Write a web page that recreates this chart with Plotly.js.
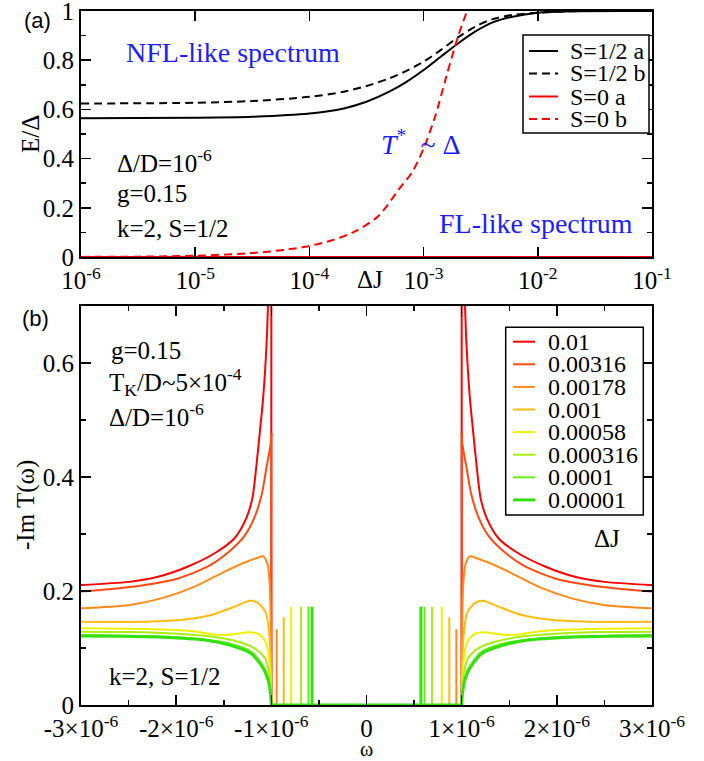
<!DOCTYPE html>
<html><head><meta charset="utf-8">
<script src="https://cdn.plot.ly/plotly-3.0.1.min.js"></script>
<style>html,body{margin:0;padding:0;background:#fff}#chart{width:704px;height:761px}</style>
</head><body><div id="chart"></div>
<script>
// ================= Panel (a) data =================
const dJ_S12 = [1e-6, 1e-5, 3.16e-5, 1e-4, 2e-4, 3.16e-4, 5e-4, 7.08e-4, 1e-3, 1.41e-3, 2e-3, 2.82e-3, 3.98e-3, 6.03e-3, 1e-2, 2e-2, 1e-1];
const E_S12a = [0.564, 0.566, 0.570, 0.583, 0.604, 0.631, 0.672, 0.712, 0.760, 0.814, 0.868, 0.916, 0.953, 0.977, 0.993, 0.999, 1.0];
const E_S12b = [0.624, 0.627, 0.634, 0.651, 0.672, 0.695, 0.726, 0.757, 0.794, 0.841, 0.893, 0.936, 0.966, 0.984, 0.993, 0.999, 1.0];
const dJ_S0a = [1e-6, 1e-1];
const E_S0a = [0, 0];
const dJ_S0b = [1e-6, 3.16e-6, 1e-5, 3.16e-5, 6.31e-5, 1e-4, 1.58e-4, 2.51e-4, 3.98e-4, 6.31e-4, 7.94e-4, 1e-3, 1.26e-3, 1.58e-3, 2e-3, 2.4e-3, 2.6e-3];
const E_S0b = [0.0005, 0.0015, 0.005, 0.016, 0.03, 0.045, 0.068, 0.104, 0.165, 0.285, 0.345, 0.441, 0.570, 0.733, 0.896, 1.0, 1.05];
const topNames = ['S=1/2 a', 'S=1/2 b', 'S=0 a', 'S=0 b'];
const topTickVals = [1e-6, 1e-5, 1e-4, 1e-3, 1e-2, 1e-1];
const topTickText = ['10<sup>-6</sup>', '10<sup>-5</sup>', '10<sup>-4</sup>', '10<sup>-3</sup>', '10<sup>-2</sup>', '10<sup>-1</sup>'];
const topYTickVals = [0, 0.2, 0.4, 0.6, 0.8, 1];
const topYTickText = ['0', '0.2', '0.4', '0.6', '0.8', '1'];

// ================= Panel (b) data (omega in units of 1e-6, positive side; spectrum is symmetric) =================
const dJLabels = ['0.01', '0.00316', '0.00178', '0.001', '0.00058', '0.000316', '0.0001', '0.00001'];
const omega_0p01 = [1.0, 1.032, 1.045, 1.063, 1.088, 1.122, 1.158, 1.20, 1.263, 1.385, 1.578, 1.876, 2.19, 2.5, 3.0];
const imT_0p01 = [0.90, 0.72, 0.652, 0.594, 0.535, 0.477, 0.418, 0.362, 0.328, 0.293, 0.268, 0.243, 0.225, 0.216, 0.2105];
const omega_0p00316 = [1.0, 1.006, 1.025, 1.053, 1.10, 1.175, 1.28, 1.437, 1.665, 1.98, 2.33, 2.6, 3.0];
const imT_0p00316 = [0.477, 0.46, 0.44, 0.415, 0.37, 0.33, 0.297, 0.27, 0.243, 0.222, 0.2105, 0.205, 0.199];
const omega_0p00178 = [1.0, 1.005, 1.017, 1.042, 1.088, 1.15, 1.28, 1.49, 1.805, 2.156, 2.506, 3.0];
const imT_0p00178 = [0, 0.126, 0.213, 0.248, 0.261, 0.258, 0.250, 0.234, 0.2076, 0.187, 0.175, 0.1696];
const omega_0p001 = [1.0, 1.008, 1.025, 1.06, 1.14, 1.227, 1.385, 1.63, 1.91, 2.33, 3.0];
const imT_0p001 = [0, 0.08, 0.13, 0.163, 0.179, 0.183, 0.1725, 0.158, 0.150, 0.146, 0.146];
const omega_0p00058 = [1.0, 1.01, 1.03, 1.07, 1.14, 1.245, 1.35, 1.48, 1.60, 1.84, 2.33, 3.0];
const imT_0p00058 = [0, 0.055, 0.092, 0.114, 0.125, 0.1275, 0.125, 0.1228, 0.1235, 0.1298, 0.1333, 0.1345];
const omega_0p000316 = [1.0, 1.01, 1.03, 1.06, 1.10, 1.175, 1.35, 1.63, 1.98, 2.5, 3.0];
const imT_0p000316 = [0, 0.035, 0.062, 0.08, 0.089, 0.0994, 0.111, 0.12, 0.125, 0.128, 0.1286];
const omega_0p0001 = [1.0, 1.01, 1.03, 1.06, 1.10, 1.21, 1.44, 1.70, 2.156, 2.6, 3.0];
const imT_0p0001 = [0, 0.025, 0.045, 0.06, 0.072, 0.0935, 0.108, 0.115, 0.12, 0.122, 0.1228];
const omega_0p00001 = [1.0, 1.01, 1.03, 1.06, 1.10, 1.21, 1.44, 1.70, 2.156, 2.6, 3.0];
const imT_0p00001 = [0, 0.022, 0.041, 0.056, 0.068, 0.09, 0.105, 0.114, 0.119, 0.1205, 0.121];
// in-gap bound-state spikes (position, height); null = none
const spikeOmega = [null, null, 0.944, 0.870, 0.791, 0.688, 0.609, 0.572];
const spikeHeight = [null, null, 0.133, 0.154, 0.1725, 0.1725, 0.1725, 0.1725];
const omegaTickVals = [-3, -2, -1, 0, 1, 2, 3];
const omegaTickText = ['-3×10<sup>-6</sup>', '-2×10<sup>-6</sup>', '-1×10<sup>-6</sup>', '0', '1×10<sup>-6</sup>', '2×10<sup>-6</sup>', '3×10<sup>-6</sup>'];
const botYTickVals = [0, 0.2, 0.4, 0.6];
const botYTickText = ['0', '0.2', '0.4', '0.6'];

// ================= styles =================
const SERIF = 'Liberation Serif, Times New Roman, serif';
const SANS = 'Liberation Sans, Arial, sans-serif';
const BLUE = '#1c1cff';
const topColors = ['black', 'black', '#ff0000', '#ff0000'];
const topDash = ['solid', '8px,5px', 'solid', '8px,5px'];
const botColors = ['#ff0000', '#ff4a12', '#ff8a1a', '#ffbb10', '#eef000', '#aaee10', '#66ee10', '#33e010'];
const botWidths = [2, 2, 2, 2, 2, 2, 2, 3];

const L = 81, R = 52, T = 11, B = 56, WID = 704, HEI = 761;
const PW = WID - L - R, PH = HEI - T - B;
const px = v => (v - L) / PW;
const py = v => (HEI - B - v) / PH;

const traces = [];
const topX = [dJ_S12, dJ_S12, dJ_S0a, dJ_S0b];
const topY = [E_S12a, E_S12b, E_S0a, E_S0b];
for (let i = 0; i < 4; i++) {
  traces.push({x: topX[i], y: topY[i], type: 'scatter', mode: 'lines', xaxis: 'x', yaxis: 'y',
    line: {color: topColors[i], width: 2, dash: topDash[i], shape: 'spline', smoothing: 0.8},
    name: topNames[i], showlegend: false, hoverinfo: 'skip'});
}

const omegaSets = [omega_0p01, omega_0p00316, omega_0p00178, omega_0p001, omega_0p00058, omega_0p000316, omega_0p0001, omega_0p00001];
const imTSets = [imT_0p01, imT_0p00316, imT_0p00178, imT_0p001, imT_0p00058, imT_0p000316, imT_0p0001, imT_0p00001];
for (let i = 0; i < 8; i++) {
  const w = omegaSets[i], v = imTSets[i];
  const st = {color: botColors[i], width: botWidths[i]};
  const gx = [-w[0], -w[0]], gy = [v[0], 0];
  if (spikeOmega[i] !== null) {
    gx.push(-spikeOmega[i], -spikeOmega[i], -spikeOmega[i], spikeOmega[i], spikeOmega[i], spikeOmega[i]);
    gy.push(0, spikeHeight[i], 0, 0, spikeHeight[i], 0);
  }
  gx.push(w[0], w[0]); gy.push(0, v[0]);
  traces.push({x: gx, y: gy, type: 'scatter', mode: 'lines', xaxis: 'x2', yaxis: 'y2',
    line: Object.assign({shape: 'linear'}, st), showlegend: false, hoverinfo: 'skip', name: dJLabels[i]});
  traces.push({x: w, y: v, type: 'scatter', mode: 'lines', xaxis: 'x2', yaxis: 'y2',
    line: Object.assign({shape: 'spline', smoothing: 0.7}, st), showlegend: false, hoverinfo: 'skip', name: dJLabels[i]});
  traces.push({x: w.map(a => -a), y: v, type: 'scatter', mode: 'lines', xaxis: 'x2', yaxis: 'y2',
    line: Object.assign({shape: 'spline', smoothing: 0.7}, st), showlegend: false, hoverinfo: 'skip', name: dJLabels[i]});
}

const axBase = {showline: true, linecolor: 'black', linewidth: 2, mirror: 'allticks', ticks: 'inside',
  ticklen: 10, tickwidth: 1.5, tickcolor: 'black', showgrid: false, zeroline: false,
  ticklabeloverflow: 'allow',
  tickfont: {family: SERIF, size: 25, color: 'black'}, tickmode: 'array'};

const annotations = [];
const shapes = [];
function txt(text, x, y, opts) {
  annotations.push(Object.assign({text: text, xref: 'paper', yref: 'paper', x: px(x), y: py(y),
    xanchor: 'left', yanchor: 'middle', showarrow: false, borderpad: 0,
    font: {family: SERIF, size: 25, color: 'black'}}, opts || {}));
}
// panel (a) texts
txt('(a)', 37, 20, {xanchor: 'center', font: {family: SANS, size: 22, color: 'black'}});
txt('NFL-like spectrum', 125, 53, {font: {family: SERIF, size: 28, color: BLUE}});
txt('<i>T</i><sup>*</sup>\u00a0\u00a0~\u00a0Δ', 380, 142, {font: {family: SERIF, size: 28, color: BLUE}});
txt('FL-like spectrum', 438, 223, {font: {family: SERIF, size: 28, color: BLUE}});
txt('Δ/D=10<sup>-6</sup>', 116, 161);
txt('g=0.15', 116, 193);
txt('k=2, S=1/2', 116, 228);
txt('ΔJ', 370, 279, {xanchor: 'center'});
txt('E/Δ', 30, 134, {xanchor: 'center', textangle: -90});
// panel (b) texts
txt('(b)', 35, 318, {xanchor: 'center', font: {family: SANS, size: 22, color: 'black'}});
txt('g=0.15', 110, 350);
txt('T<sub>K</sub>/D~5×10<sup>-4</sup>', 108, 381.5);
txt('Δ/D=10<sup>-6</sup>', 108, 415);
txt('k=2, S=1/2', 108, 676);
txt('ΔJ', 607, 538, {xanchor: 'center'});
txt('-Im T(ω)', 26, 505, {xanchor: 'center', textangle: -90});
txt('ω', 366, 761, {xanchor: 'center', yanchor: 'bottom', font: {family: SERIF, size: 20, color: 'black'}});

// legend (a)
shapes.push({type: 'rect', xref: 'paper', yref: 'paper', x0: px(523), x1: px(649), y0: py(35), y1: py(133),
  line: {color: 'black', width: 1.5}, fillcolor: 'white', layer: 'above'});
const topRows = [51, 73.5, 96.5, 119];
for (let i = 0; i < 4; i++) {
  shapes.push({type: 'line', xref: 'paper', yref: 'paper', x0: px(529), x1: px(558), y0: py(topRows[i]), y1: py(topRows[i]),
    line: {color: topColors[i], width: 2, dash: topDash[i]}, layer: 'above'});
  txt(topNames[i], 569, topRows[i], {font: {family: SERIF, size: 24, color: 'black'}});
}
// legend (b)
shapes.push({type: 'rect', xref: 'paper', yref: 'paper', x0: px(505.7), x1: px(643.3), y0: py(327.3), y1: py(515),
  line: {color: 'black', width: 1.5}, fillcolor: 'white', layer: 'above'});
for (let i = 0; i < 8; i++) {
  const ry = 341.7 + i * 22.6;
  shapes.push({type: 'line', xref: 'paper', yref: 'paper', x0: px(513), x1: px(535), y0: py(ry), y1: py(ry),
    line: {color: botColors[i], width: botWidths[i]}, layer: 'above'});
  txt(dJLabels[i], 546.7, ry, {font: {family: SERIF, size: 24, color: 'black'}});
}

const layout = {
  width: WID, height: HEI,
  margin: {l: L, r: R, t: T, b: B, pad: 0},
  paper_bgcolor: 'white', plot_bgcolor: 'white',
  showlegend: false,
  xaxis: Object.assign({}, axBase, {type: 'log', range: [-6, -1], domain: [0, 1], anchor: 'y',
    tickvals: topTickVals, ticktext: topTickText}),
  yaxis: Object.assign({}, axBase, {range: [0, 1], domain: [py(257), 1], anchor: 'x',
    tickvals: topYTickVals, ticktext: topYTickText,
    minor: {tickmode: 'linear', tick0: 0, dtick: 0.1, ticks: 'inside', ticklen: 5, tickwidth: 1.5, tickcolor: 'black'}}),
  xaxis2: Object.assign({}, axBase, {range: [-3, 3], domain: [0, 1], anchor: 'y2',
    tickvals: omegaTickVals, ticktext: omegaTickText,
    minor: {tickmode: 'linear', tick0: 0, dtick: 0.5, ticks: 'inside', ticklen: 5, tickwidth: 1.5, tickcolor: 'black'}}),
  yaxis2: Object.assign({}, axBase, {range: [0, 0.7], domain: [0, py(306)], anchor: 'x2',
    tickvals: botYTickVals, ticktext: botYTickText,
    minor: {tickmode: 'linear', tick0: 0, dtick: 0.1, ticks: 'inside', ticklen: 5, tickwidth: 1.5, tickcolor: 'black'}}),
  annotations: annotations,
  shapes: shapes
};

Plotly.newPlot('chart', traces, layout, {staticPlot: true, displayModeBar: false});
</script>
</body></html>
